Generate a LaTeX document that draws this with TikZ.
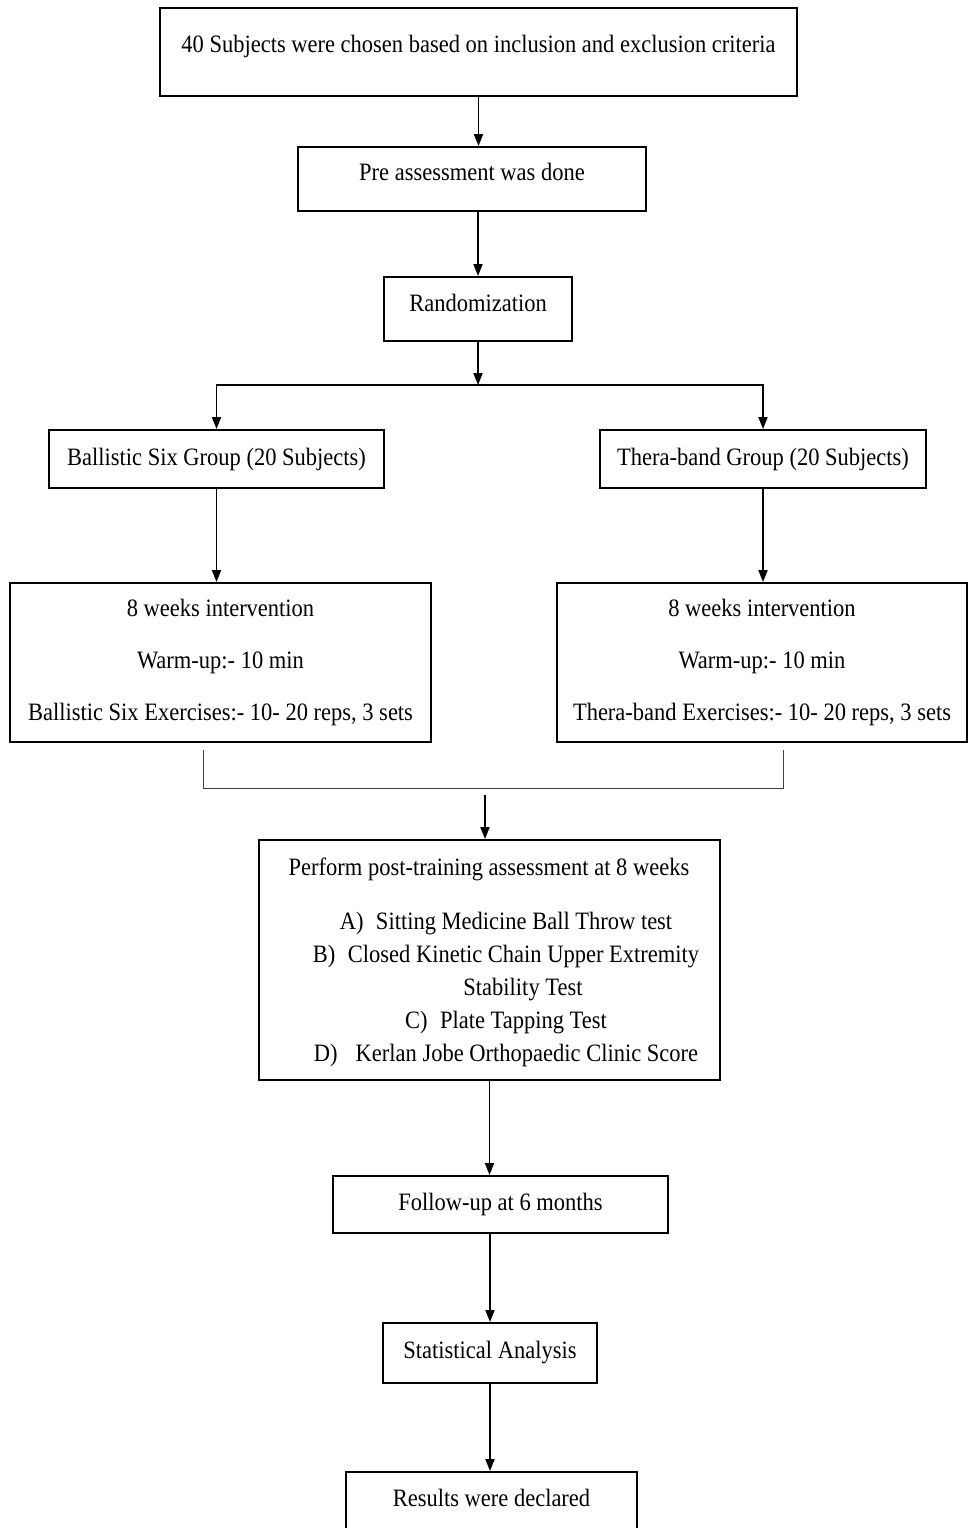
\documentclass[tikz,border=0pt]{standalone}
\usepackage{fontspec}
\setmainfont[FakeStretch=0.9]{Liberation Serif}
\usetikzlibrary{arrows.meta, calc}

\begin{document}
\begin{tikzpicture}[x=0.5pt, y=-0.5pt, line width=1pt,
        font=\fontsize{12.5pt}{15pt}\selectfont,
        box/.style={draw, rectangle, inner sep=2pt},
        lift/.style={text depth=#1},
        arr/.style={-{Triangle[length=6pt, width=4.5pt]}, line width=0.9pt},
        brk/.style={line width=0.5pt, draw=black!75}]
            \useasboundingbox (0, 0) rectangle (969, 1528);
            \clip (0, 0) rectangle (969, 1528);
            \node[box, lift=7.7pt, minimum width=318.5pt, minimum height=44pt] (sel) at (478.5, 52) {40 Subjects were chosen based on inclusion and exclusion criteria};
            \node[box, lift=6.7pt, minimum width=174pt, minimum height=32pt] (pre) at (472, 179) {Pre assessment was done};
            \node[box, lift=5.7pt, minimum width=94pt, minimum height=32pt] (rand) at (478, 309) {Randomization};
            \coordinate (split) at (478, 385);
            \node[box, minimum width=167.5pt, minimum height=29pt] (bal) at (216.5, 459) {Ballistic Six Group (20 Subjects)};
            \node[box, minimum width=163pt, minimum height=29pt] (ther) at (763, 459) {Thera-band Group (20 Subjects)};
            \node[box, align=center, font=\fontsize{12.5pt}{26pt}\selectfont, minimum width=210.5pt, minimum height=79.5pt] (balint) at (220.5, 662.5) {8 weeks intervention\\Warm-up:- 10 min\\Ballistic Six Exercises:- 10- 20 reps, 3 sets};
            \node[box, align=center, font=\fontsize{12.5pt}{26pt}\selectfont, minimum width=205pt, minimum height=79.5pt] (therint) at (762, 662.5) {8 weeks intervention\\Warm-up:- 10 min\\Thera-band Exercises:- 10- 20 reps, 3 sets};
            \coordinate (jl) at (203, 750);
            \coordinate (jr) at (783, 750);
            \coordinate (jm) at (485, 795);
            \node[box, minimum width=230.5pt, minimum height=120pt] (post) at (489.5, 960) {};
            \node (posttitle) at (489, 869) {Perform post-training assessment at 8 weeks};
            \node[align=center, font=\fontsize{12.5pt}{16.5pt}\selectfont] (posttests) at (506, 989) {A)\enspace Sitting Medicine Ball Throw test\\B)\enspace Closed Kinetic Chain Upper Extremity\\\hspace{17pt}Stability Test\\C)\enspace Plate Tapping Test\\D)\enspace\ Kerlan Jobe Orthopaedic Clinic Score};
            \node[box, minimum width=167.5pt, minimum height=28.5pt] (fu) at (500.5, 1204.5) {Follow-up at 6 months};
            \node[box, minimum width=107pt, minimum height=30pt] (stat) at (490, 1353) {Statistical Analysis};
            \node[box, lift=11.7pt, minimum width=145.5pt, minimum height=38pt] (res) at (491.5, 1510) {Results were declared};
            \draw[arr] (sel) -- (sel |- pre.north);
            \draw[arr] (rand |- pre.south) -- (rand);
            \draw[arr] (rand) -- (split);
            \draw[arr] (split) -| (bal);
            \draw[arr] (split) -| (ther);
            \draw[arr] (bal) -- (bal |- balint.north);
            \draw[arr] (ther) -- (ther |- therint.north);
            \draw[brk] (jl) -- ++(0, 38) -| (jr);
            \draw[arr] (jm) -- (jm |- post.north);
            \draw[arr] (post) -- (post |- fu.north);
            \draw[arr] (stat |- fu.south) -- (stat);
            \draw[arr] (stat) -- (stat |- res.north);
        \end{tikzpicture}
\end{document}
